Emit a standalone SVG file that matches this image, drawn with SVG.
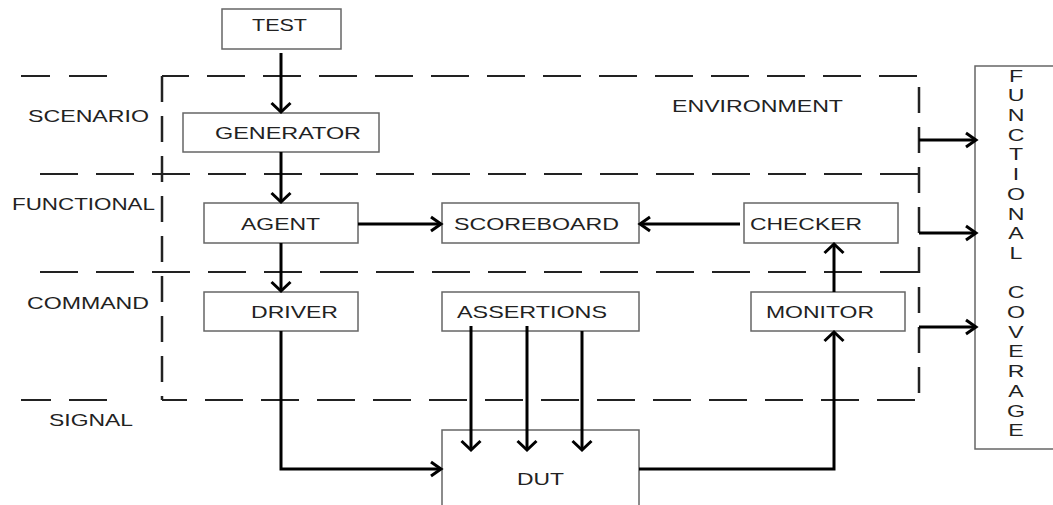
<svg xmlns="http://www.w3.org/2000/svg" width="1053" height="505" viewBox="0 0 1053 505">
<style>
.box{fill:#fff;stroke:#666;stroke-width:1.5}
.t{font-family:"Liberation Sans",Arial,sans-serif;font-size:16.5px;fill:#222}
.dh{fill:none;stroke:#222;stroke-width:2;stroke-dasharray:38 18}
.dv{fill:none;stroke:#222;stroke-width:2.5;stroke-dasharray:26 14}
.seg{fill:none;stroke:#222;stroke-width:2}
.cv{fill:none;stroke:#000;stroke-width:3;marker-end:url(#av)}
.ch{fill:none;stroke:#000;stroke-width:3;marker-end:url(#ah)}
</style>
<defs>
<marker id="av" markerUnits="userSpaceOnUse" orient="auto" refX="0" refY="0" markerWidth="30" markerHeight="30" viewBox="-15 -15 30 30" overflow="visible">
<path d="M-9,-9.5 L0,0 L-9,9.5" fill="none" stroke="#000" stroke-width="3"/>
</marker>
<marker id="ah" markerUnits="userSpaceOnUse" orient="auto" refX="0" refY="0" markerWidth="30" markerHeight="30" viewBox="-15 -15 30 30" overflow="visible">
<path d="M-10,-7 L0,0 L-10,7" fill="none" stroke="#000" stroke-width="3"/>
</marker>
</defs>

<g id="layers">
<path class="seg" d="M21 76 H50 M69 76 H107 M21 400 H51 M69 400 H107"/>
<path class="dh" d="M40 174 H919"/>
<path class="dh" d="M40 272 H919"/>
<text class="t" x="28" y="121.5" textLength="121" lengthAdjust="spacingAndGlyphs">SCENARIO</text>
<text class="t" x="12" y="209.5" textLength="143" lengthAdjust="spacingAndGlyphs">FUNCTIONAL</text>
<text class="t" x="27" y="308.5" textLength="122" lengthAdjust="spacingAndGlyphs">COMMAND</text>
<text class="t" x="49" y="426" textLength="84" lengthAdjust="spacingAndGlyphs">SIGNAL</text>
</g>

<g id="environment">
<path class="dh" d="M162 76 H919" stroke-dashoffset="11"/>
<path class="dh" d="M162 400 H919" stroke-dashoffset="13"/>
<path class="dv" d="M162 76 V400"/>
<path class="dv" d="M919 76 V400" stroke-dashoffset="29"/>
<text class="t" x="672" y="112" textLength="171" lengthAdjust="spacingAndGlyphs">ENVIRONMENT</text>
</g>

<g id="test"><rect class="box" x="222" y="9" width="119" height="40"/>
<text class="t" x="252" y="30.5" textLength="55" lengthAdjust="spacingAndGlyphs">TEST</text></g>

<g id="generator"><rect class="box" x="183" y="113" width="196" height="39"/>
<text class="t" x="215" y="139" textLength="146" lengthAdjust="spacingAndGlyphs">GENERATOR</text></g>

<g id="agent"><rect class="box" x="204" y="203" width="154" height="40"/>
<text class="t" x="241" y="229.5" textLength="79" lengthAdjust="spacingAndGlyphs">AGENT</text></g>

<g id="scoreboard"><rect class="box" x="442" y="203" width="197" height="40"/>
<text class="t" x="454" y="230" textLength="165" lengthAdjust="spacingAndGlyphs">SCOREBOARD</text></g>

<g id="checker"><rect class="box" x="744" y="203" width="154" height="40"/>
<text class="t" x="750" y="230" textLength="112" lengthAdjust="spacingAndGlyphs">CHECKER</text></g>

<g id="driver"><rect class="box" x="204" y="292" width="154" height="39"/>
<text class="t" x="251" y="318.3" textLength="87" lengthAdjust="spacingAndGlyphs">DRIVER</text></g>

<g id="assertions"><rect class="box" x="442" y="292" width="197" height="39"/>
<text class="t" x="457" y="318.3" textLength="150" lengthAdjust="spacingAndGlyphs">ASSERTIONS</text></g>

<g id="monitor"><rect class="box" x="751" y="292" width="154" height="39"/>
<text class="t" x="766" y="318.3" textLength="108" lengthAdjust="spacingAndGlyphs">MONITOR</text></g>

<g id="dut"><rect class="box" x="442" y="430" width="197" height="90"/>
<text class="t" x="517" y="485" textLength="47" lengthAdjust="spacingAndGlyphs">DUT</text></g>

<g id="coverage"><rect class="box" x="975" y="66" width="100" height="383"/>
<text class="t" transform="translate(1016,0) scale(1.4,1)" text-anchor="middle">
<tspan x="0" y="81.7">F</tspan><tspan x="0" dy="19.7">U</tspan><tspan x="0" dy="19.7">N</tspan><tspan x="0" dy="19.7">C</tspan><tspan x="0" dy="19.7">T</tspan><tspan x="0" dy="19.7">I</tspan><tspan x="0" dy="19.7">O</tspan><tspan x="0" dy="19.7">N</tspan><tspan x="0" dy="19.7">A</tspan><tspan x="0" dy="19.7">L</tspan><tspan x="0" dy="39.4">C</tspan><tspan x="0" dy="19.7">O</tspan><tspan x="0" dy="19.7">V</tspan><tspan x="0" dy="19.7">E</tspan><tspan x="0" dy="19.7">R</tspan><tspan x="0" dy="19.7">A</tspan><tspan x="0" dy="19.7">G</tspan><tspan x="0" dy="19.7">E</tspan>
</text></g>

<g id="connectors">
<path class="cv" d="M281 53 V112"/>
<path class="cv" d="M281 152 V202"/>
<path class="cv" d="M281 243 V291"/>
<path class="ch" d="M281 331 V469 H441"/>
<path class="ch" d="M358 224 H441"/>
<path class="ch" d="M740 224 H640"/>
<path class="cv" d="M639 469 H834 V332"/>
<path class="cv" d="M834 292 V244"/>
<path class="cv" d="M471 326 V450"/>
<path class="cv" d="M527 326 V450"/>
<path class="cv" d="M582 331 V450"/>
<path class="ch" d="M919 140 H976"/>
<path class="ch" d="M919 233 H976"/>
<path class="ch" d="M919 327 H976"/>
</g>
</svg>
